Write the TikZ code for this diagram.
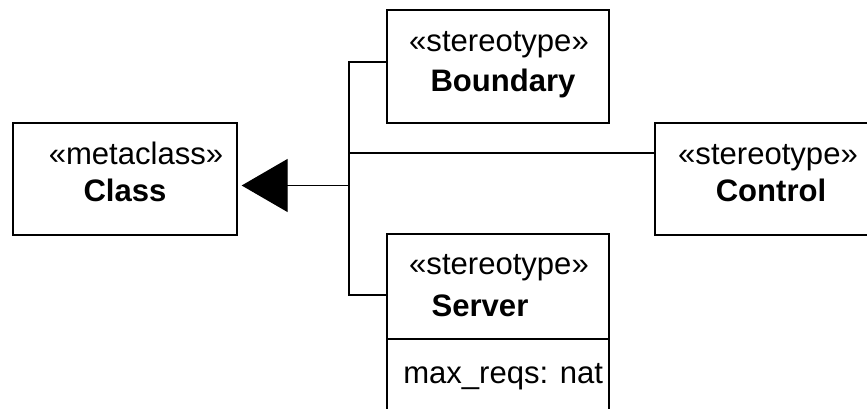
\documentclass[tikz,border=0pt]{standalone}
\usepackage{fontspec}
\setmainfont{Liberation Sans}
\usetikzlibrary{arrows.meta}

\begin{document}
\begin{tikzpicture}[x=0.75pt, y=-0.75pt,
		umlbox/.style={draw, line width=1pt, inner sep=0pt},
		stereo/.style={anchor=base, inner sep=0pt, font=\fontsize{23.3}{28}\selectfont},
		cname/.style={stereo, font=\fontsize{23.3}{28}\selectfont\bfseries},
		wire/.style={line width=1pt}]
			%%%%% START %%%%%
			
			\useasboundingbox (0,0) rectangle (867,409);
			\clip (0,0) rectangle (867,409);
			
			\node[umlbox, minimum width=168pt, minimum height=84pt] (class) at (125,179) {};
			\node[stereo] (classst) at (136,165) {«metaclass»};
			\node[cname] (classnm) at (125,202) {Class};
			
			\node[umlbox, minimum width=166.5pt, minimum height=84.75pt] (boundary) at (498,66.5) {};
			\node[stereo] (boundaryst) at (499,52) {«stereotype»};
			\node[cname] (boundarynm) at (503,92) {Boundary};
			
			\node[umlbox, minimum width=166.5pt, minimum height=84pt] (control) at (766,179) {};
			\node[stereo] (controlst) at (768,165) {«stereotype»};
			\node[cname] (controlnm) at (771,202) {Control};
			
			\node[umlbox, minimum width=166.5pt, minimum height=78.75pt] (server) at (498,286.5) {};
			\node[umlbox, minimum width=166.5pt, minimum height=75.75pt] (serverattr) at (498,389.5) {};
			\node[stereo] (serverst) at (499,275) {«stereotype»};
			\node[cname] (servernm) at (480,317) {Server};
			\node[stereo, anchor=base west] (serverreq) at (403,383) {max\_reqs: nat};
			
			\coordinate (hub) at (349,185.5);
			\draw[wire, -{Triangle[length=34.5pt, width=39.75pt]}, shorten >=3pt] (hub) -- (hub -| class.east);
			\draw[wire] ([yshift=3.4pt]boundary.west) -| (hub);
			\draw[wire] ([yshift=19.5pt]control.west) -| (hub);
			\draw[wire] ([yshift=-6.4pt]server.west) -| (hub);
			
			%%%%% END %%%%%
		\end{tikzpicture}
\end{document}
